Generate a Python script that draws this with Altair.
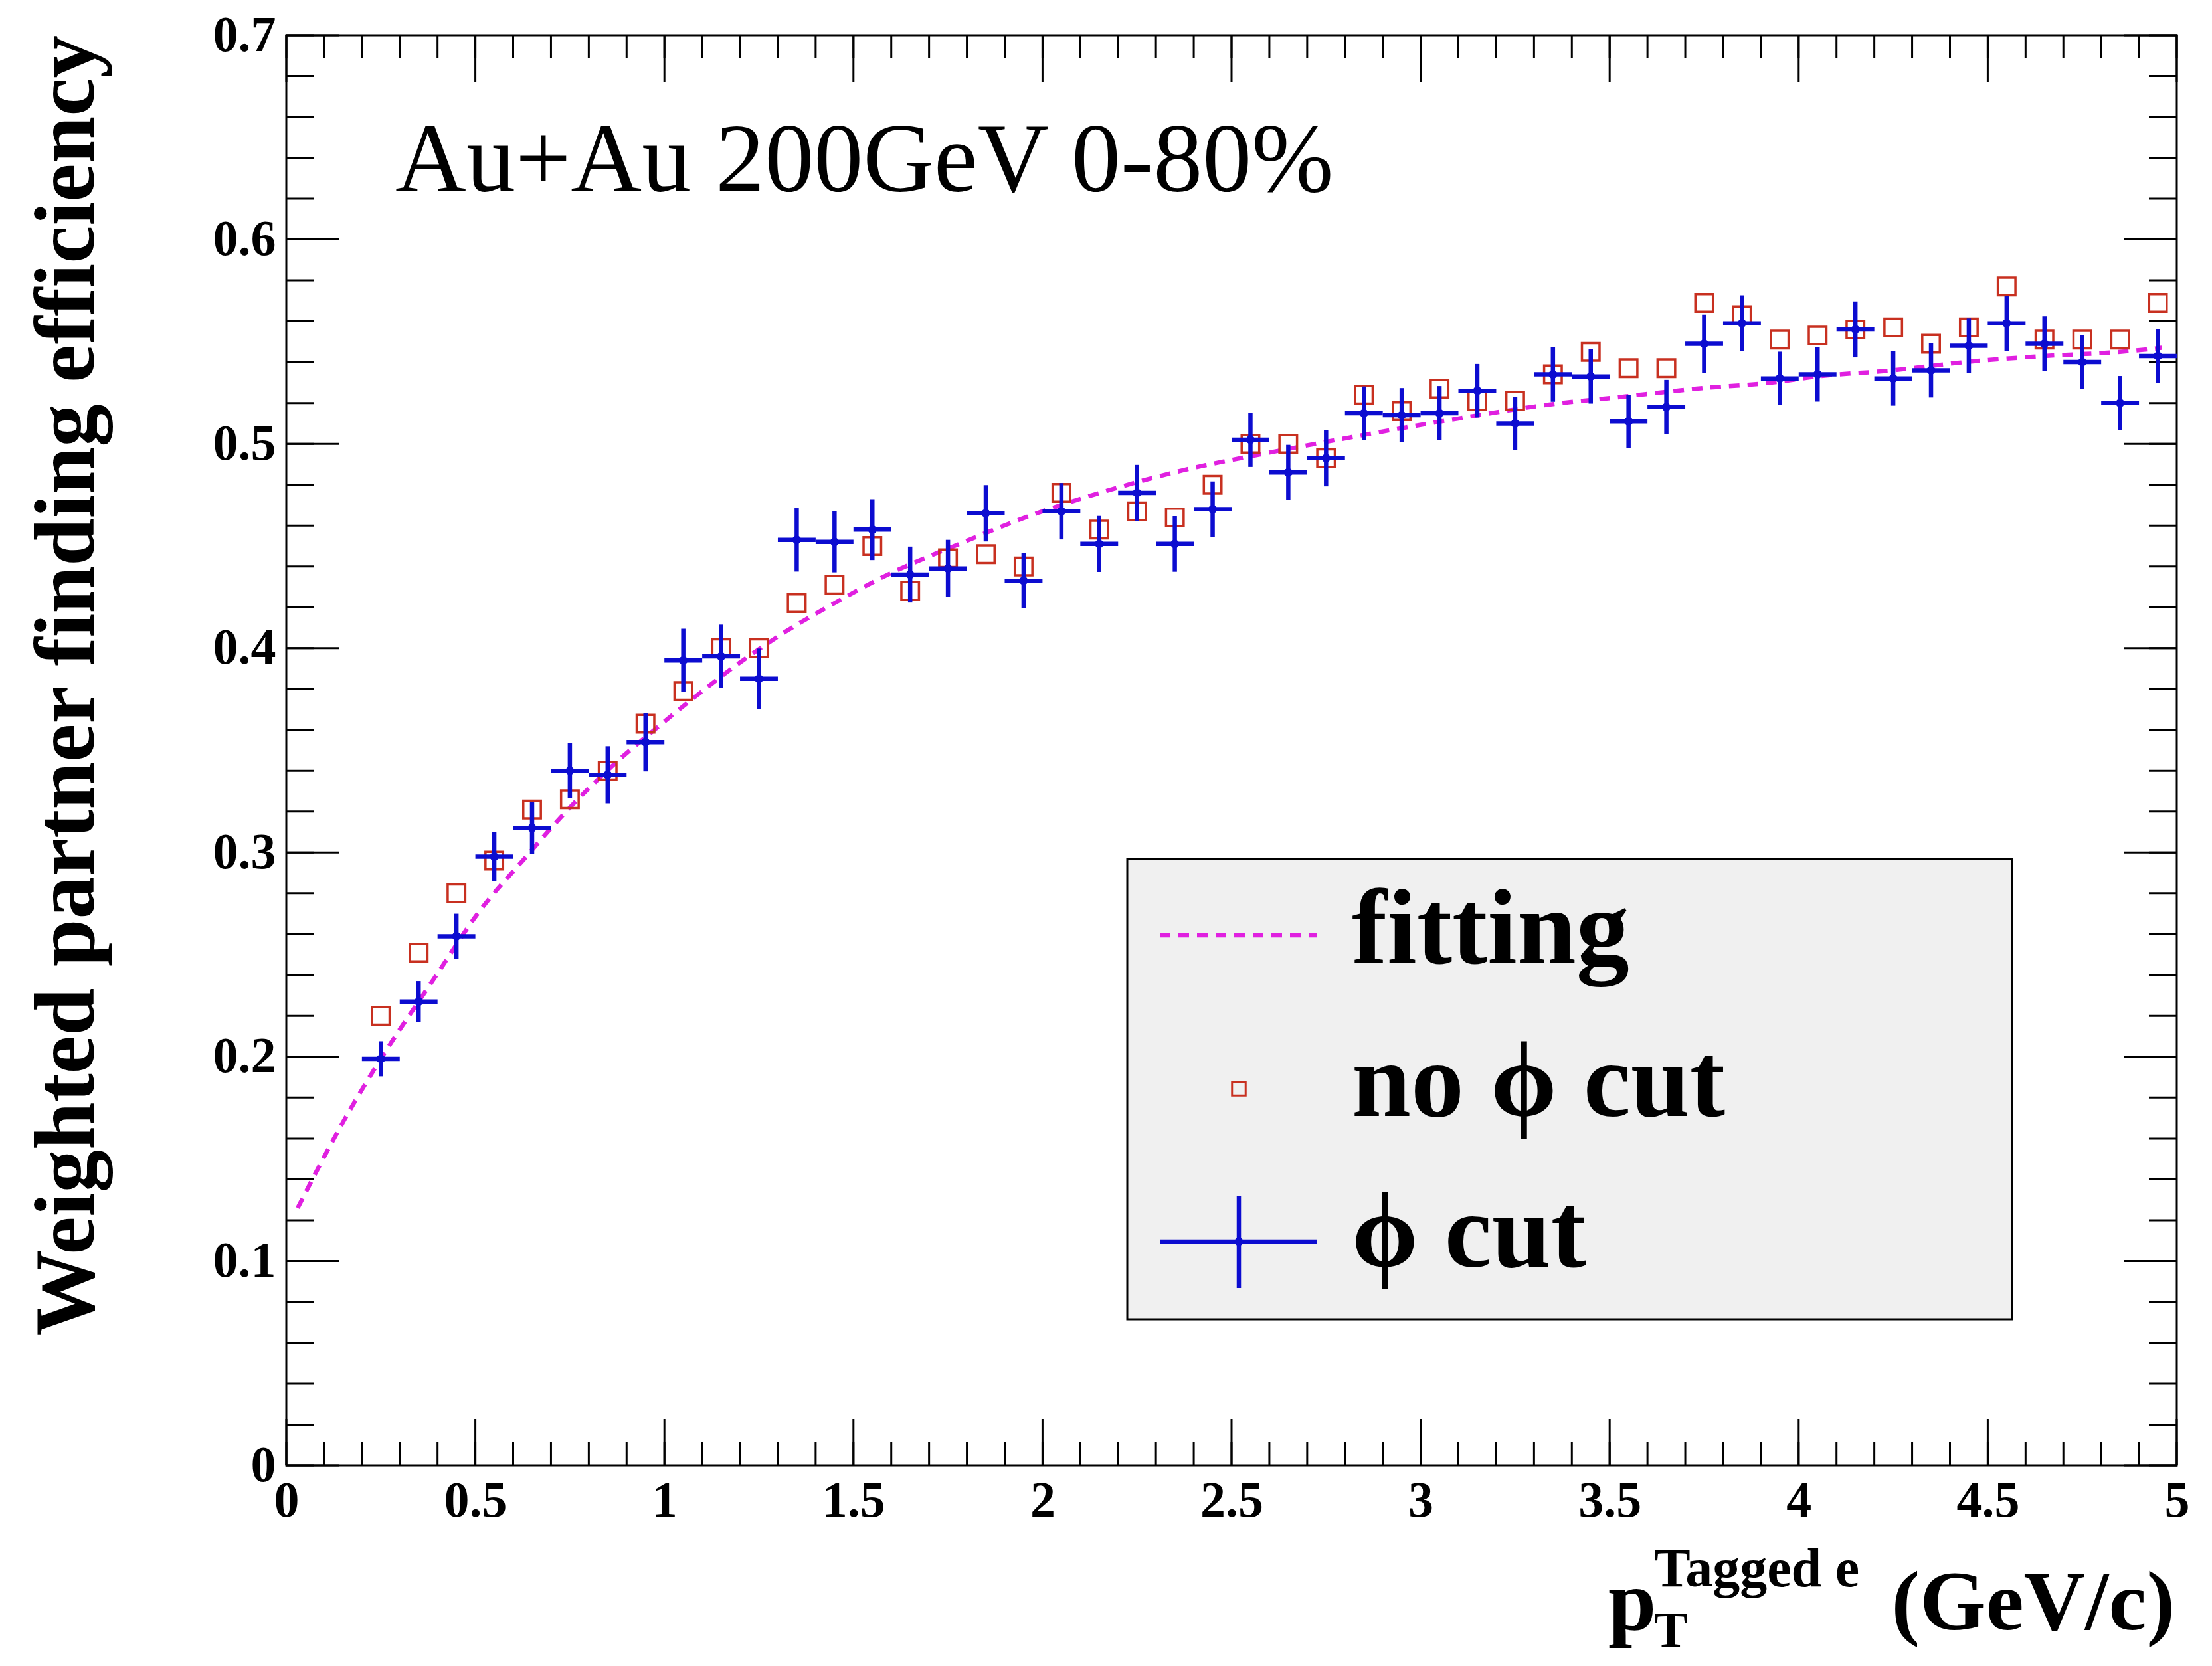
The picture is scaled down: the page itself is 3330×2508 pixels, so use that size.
import altair as alt
import pandas as pd

# ---------------- data ----------------
pt_bins = [0.25, 0.35, 0.45, 0.55, 0.65, 0.75, 0.85, 0.95, 1.05, 1.15, 1.25, 1.35,
           1.45, 1.55, 1.65, 1.75, 1.85, 1.95, 2.05, 2.15, 2.25, 2.35, 2.45, 2.55,
           2.65, 2.75, 2.85, 2.95, 3.05, 3.15, 3.25, 3.35, 3.45, 3.55, 3.65, 3.75,
           3.85, 3.95, 4.05, 4.15, 4.25, 4.35, 4.45, 4.55, 4.65, 4.75, 4.85, 4.95]

eff_phi_cut = [0.199, 0.227, 0.259, 0.298, 0.312, 0.340, 0.338, 0.354, 0.394, 0.396, 0.385, 0.453,
               0.452, 0.458, 0.436, 0.439, 0.466, 0.433, 0.467, 0.451, 0.476, 0.451, 0.468, 0.502,
               0.486, 0.493, 0.515, 0.514, 0.515, 0.526, 0.510, 0.534, 0.533, 0.511, 0.518, 0.549,
               0.559, 0.532, 0.534, 0.556, 0.532, 0.536, 0.548, 0.559, 0.549, 0.540, 0.520, 0.543]

err_phi_cut = [0.0086, 0.0100, 0.0110, 0.0120, 0.0128, 0.0135, 0.0140, 0.0143, 0.0155, 0.0155, 0.0148, 0.0155,
               0.0149, 0.0149, 0.0137, 0.0140, 0.0138, 0.0135, 0.0138, 0.0137, 0.0137, 0.0136, 0.0136, 0.0133,
               0.0135, 0.0138, 0.0131, 0.0133, 0.0133, 0.0131, 0.0131, 0.0134, 0.0133, 0.0130, 0.0133, 0.0142,
               0.0137, 0.0131, 0.0133, 0.0137, 0.0133, 0.0133, 0.0134, 0.0135, 0.0134, 0.0133, 0.0132, 0.0132]

eff_no_phi_cut = [0.220, 0.251, 0.280, 0.296, 0.321, 0.326, 0.340, 0.363, 0.379, 0.400, 0.400, 0.422,
                  0.431, 0.450, 0.428, 0.444, 0.446, 0.440, 0.476, 0.458, 0.467, 0.464, 0.480, 0.500,
                  0.500, 0.493, 0.524, 0.516, 0.527, 0.521, 0.521, 0.534, 0.545, 0.537, 0.537, 0.569,
                  0.563, 0.551, 0.553, 0.556, 0.557, 0.549, 0.557, 0.577, 0.551, 0.551, 0.551, 0.569]

fit_pt = [0.03, 0.15, 0.25, 0.39, 0.51, 0.63, 0.74, 0.86, 0.98, 1.08, 1.20, 1.32, 1.44, 1.58,
          1.78, 1.97, 2.17, 2.37, 2.58, 2.78, 2.93, 3.12, 3.33, 3.53, 3.73, 3.93, 4.05, 4.25,
          4.44, 4.65, 4.85, 4.96]
fit_eff = [0.126, 0.168, 0.199, 0.238, 0.271, 0.297, 0.320, 0.342, 0.361, 0.376, 0.393, 0.408,
           0.421, 0.435, 0.451, 0.465, 0.477, 0.487, 0.495, 0.502, 0.507, 0.513, 0.519, 0.523,
           0.527, 0.530, 0.533, 0.536, 0.540, 0.543, 0.545, 0.547]

bin_half_width = 0.05

x_major_ticks = [0.0, 0.5, 1.0, 1.5, 2.0, 2.5, 3.0, 3.5, 4.0, 4.5, 5.0]
x_minor_ticks = [round(0.1 * i, 1) for i in range(51)]
y_major_ticks = [0.0, 0.1, 0.2, 0.3, 0.4, 0.5, 0.6, 0.7]
y_minor_ticks = [round(0.02 * i, 2) for i in range(36)]

collision_label = ["Au+Au 200GeV 0-80%"]
y_title = ["Weighted partner finding efficiency"]
x_title_main = ["p"]
x_title_sup = ["Tagged e"]
x_title_sub = ["T"]
x_title_unit = ["(GeV/c)"]
legend_labels = ["fitting", "no \u03d5 cut", "\u03d5 cut"]

# ---------------- styling ----------------
W, H = 2846, 2153
FONT = "Liberation Serif"
BLUE = "#0c0cd0"
RED = "#c83020"
MAGENTA = "#e020e0"
DASH = [16, 12]

xs = alt.Scale(domain=[0, 5], nice=False, zero=False)
ys = alt.Scale(domain=[0, 0.7], nice=False, zero=False)

x_axis = alt.Axis(values=x_major_ticks, labelExpr="'' + datum.value", labelFont=FONT,
                  labelFontWeight="bold", labelFontSize=76, labelColor="black",
                  labelPadding=16, ticks=False, domain=False, grid=False, title=None,
                  labelOverlap=False, labelBound=False, labelFlush=False)
y_axis = alt.Axis(values=y_major_ticks, labelExpr="'' + datum.value", labelFont=FONT,
                  labelFontWeight="bold", labelFontSize=76, labelColor="black",
                  labelPadding=16, ticks=False, domain=False, grid=False, title=None,
                  labelOverlap=False, labelBound=False, labelFlush=False)


def X(field):
    return alt.X(field, scale=xs, axis=x_axis)


def Y(field):
    return alt.Y(field, scale=ys, axis=y_axis)


fit_df = pd.DataFrame({"pt": fit_pt, "eff": fit_eff})
blue_df = pd.DataFrame({"pt": pt_bins, "eff": eff_phi_cut, "err": err_phi_cut})
red_df = pd.DataFrame({"pt": pt_bins, "eff": eff_no_phi_cut})

fit_line = alt.Chart(fit_df).mark_line(
    color=MAGENTA, strokeWidth=6.5, strokeDash=DASH, interpolate="monotone"
).encode(x=X("pt:Q"), y=Y("eff:Q"))

red_pts = alt.Chart(red_df).mark_point(
    shape="square", filled=False, size=700, strokeWidth=3.5, color=RED, opacity=1
).encode(x=X("pt:Q"), y=Y("eff:Q"))

blue_v = alt.Chart(blue_df).transform_calculate(
    lo="datum.eff - datum.err", hi="datum.eff + datum.err"
).mark_rule(color=BLUE, strokeWidth=6.5).encode(
    x=X("pt:Q"), y=Y("lo:Q"), y2="hi:Q",
)

blue_h = alt.Chart(blue_df).transform_calculate(
    x1=f"datum.pt - {bin_half_width}", x2=f"datum.pt + {bin_half_width}"
).mark_rule(color=BLUE, strokeWidth=6.5).encode(
    x=X("x1:Q"), x2="x2:Q", y=Y("eff:Q"),
)

blue_dot = alt.Chart(blue_df).mark_circle(size=170, color=BLUE, opacity=1).encode(
    x=X("pt:Q"), y=Y("eff:Q"),
)


# ---------------- ROOT style inner ticks on all four sides ----------------
def xticks(vals, length):
    df = pd.DataFrame({"pt": vals})
    bottom = alt.Chart(df).mark_rule(color="black", strokeWidth=3).encode(
        x=X("pt:Q"), y=alt.value(H), y2=alt.value(H - length))
    top = alt.Chart(df).mark_rule(color="black", strokeWidth=3).encode(
        x=X("pt:Q"), y=alt.value(0), y2=alt.value(length))
    return [bottom, top]


def yticks(vals, length):
    df = pd.DataFrame({"eff": vals})
    left = alt.Chart(df).mark_rule(color="black", strokeWidth=3).encode(
        y=Y("eff:Q"), x=alt.value(0), x2=alt.value(length))
    right = alt.Chart(df).mark_rule(color="black", strokeWidth=3).encode(
        y=Y("eff:Q"), x=alt.value(W), x2=alt.value(W - length))
    return [left, right]


tick_layers = xticks(x_minor_ticks, 35) + xticks(x_major_ticks, 70) + \
    yticks(y_minor_ticks, 42) + yticks(y_major_ticks, 80)


# ---------------- texts ----------------
def text(label, x, y, size, weight="bold", align="left", baseline="alphabetic", angle=0):
    df = pd.DataFrame({"label": label})
    return alt.Chart(df).mark_text(
        font=FONT, fontSize=size, fontWeight=weight, align=align, baseline=baseline,
        angle=angle, color="black"
    ).encode(text="label:N", x=alt.value(x), y=alt.value(y))


texts = [
    text(collision_label, 164, 235, 148, weight="normal"),
    text(y_title, -329, 0, 129, align="right", baseline="middle", angle=270),
    text(x_title_main, 1990, 2400, 130),
    text(x_title_sup, 2059, 2335, 82),
    text(x_title_sub, 2059, 2426, 76),
    text(x_title_unit, 2843, 2400, 128, align="right"),
]

# ---------------- legend ----------------
one = pd.DataFrame({"k": [0]})
legend_box = alt.Chart(one).mark_rect(fill="#f0f0f0", stroke="black", strokeWidth=3).encode(
    x=alt.value(1266), x2=alt.value(2598), y=alt.value(1240), y2=alt.value(1933))
legend_fit = alt.Chart(one).mark_rule(color=MAGENTA, strokeWidth=6.5, strokeDash=DASH).encode(
    x=alt.value(1315), x2=alt.value(1551), y=alt.value(1355))
legend_sq = alt.Chart(one).mark_point(shape="square", filled=False, size=420, strokeWidth=3,
                                      color=RED, opacity=1).encode(
    x=alt.value(1434), y=alt.value(1586))
legend_ch = alt.Chart(one).mark_rule(color=BLUE, strokeWidth=6.5).encode(
    x=alt.value(1315), x2=alt.value(1551), y=alt.value(1816))
legend_cv = alt.Chart(one).mark_rule(color=BLUE, strokeWidth=6.5).encode(
    x=alt.value(1434), y=alt.value(1748), y2=alt.value(1886))
legend_cd = alt.Chart(one).mark_circle(size=170, color=BLUE, opacity=1).encode(
    x=alt.value(1434), y=alt.value(1816))
legend_texts = [
    text([legend_labels[0]], 1604, 1397, 160),
    text([legend_labels[1]], 1604, 1627, 160),
    text([legend_labels[2]], 1604, 1854, 160),
]

chart = alt.layer(
    fit_line, *tick_layers, red_pts, blue_v, blue_h, blue_dot,
    legend_box, legend_fit, legend_sq, legend_ch, legend_cv, legend_cd,
    *legend_texts, *texts,
).properties(
    width=W, height=H,
    autosize=alt.AutoSizeParams(type="none"),
    padding={"left": 423, "top": 45, "right": 45, "bottom": 294},
    background="white",
).configure_view(stroke="black", strokeWidth=3)

chart.save("out.html", embed_options={"renderer": "svg", "actions": False})
